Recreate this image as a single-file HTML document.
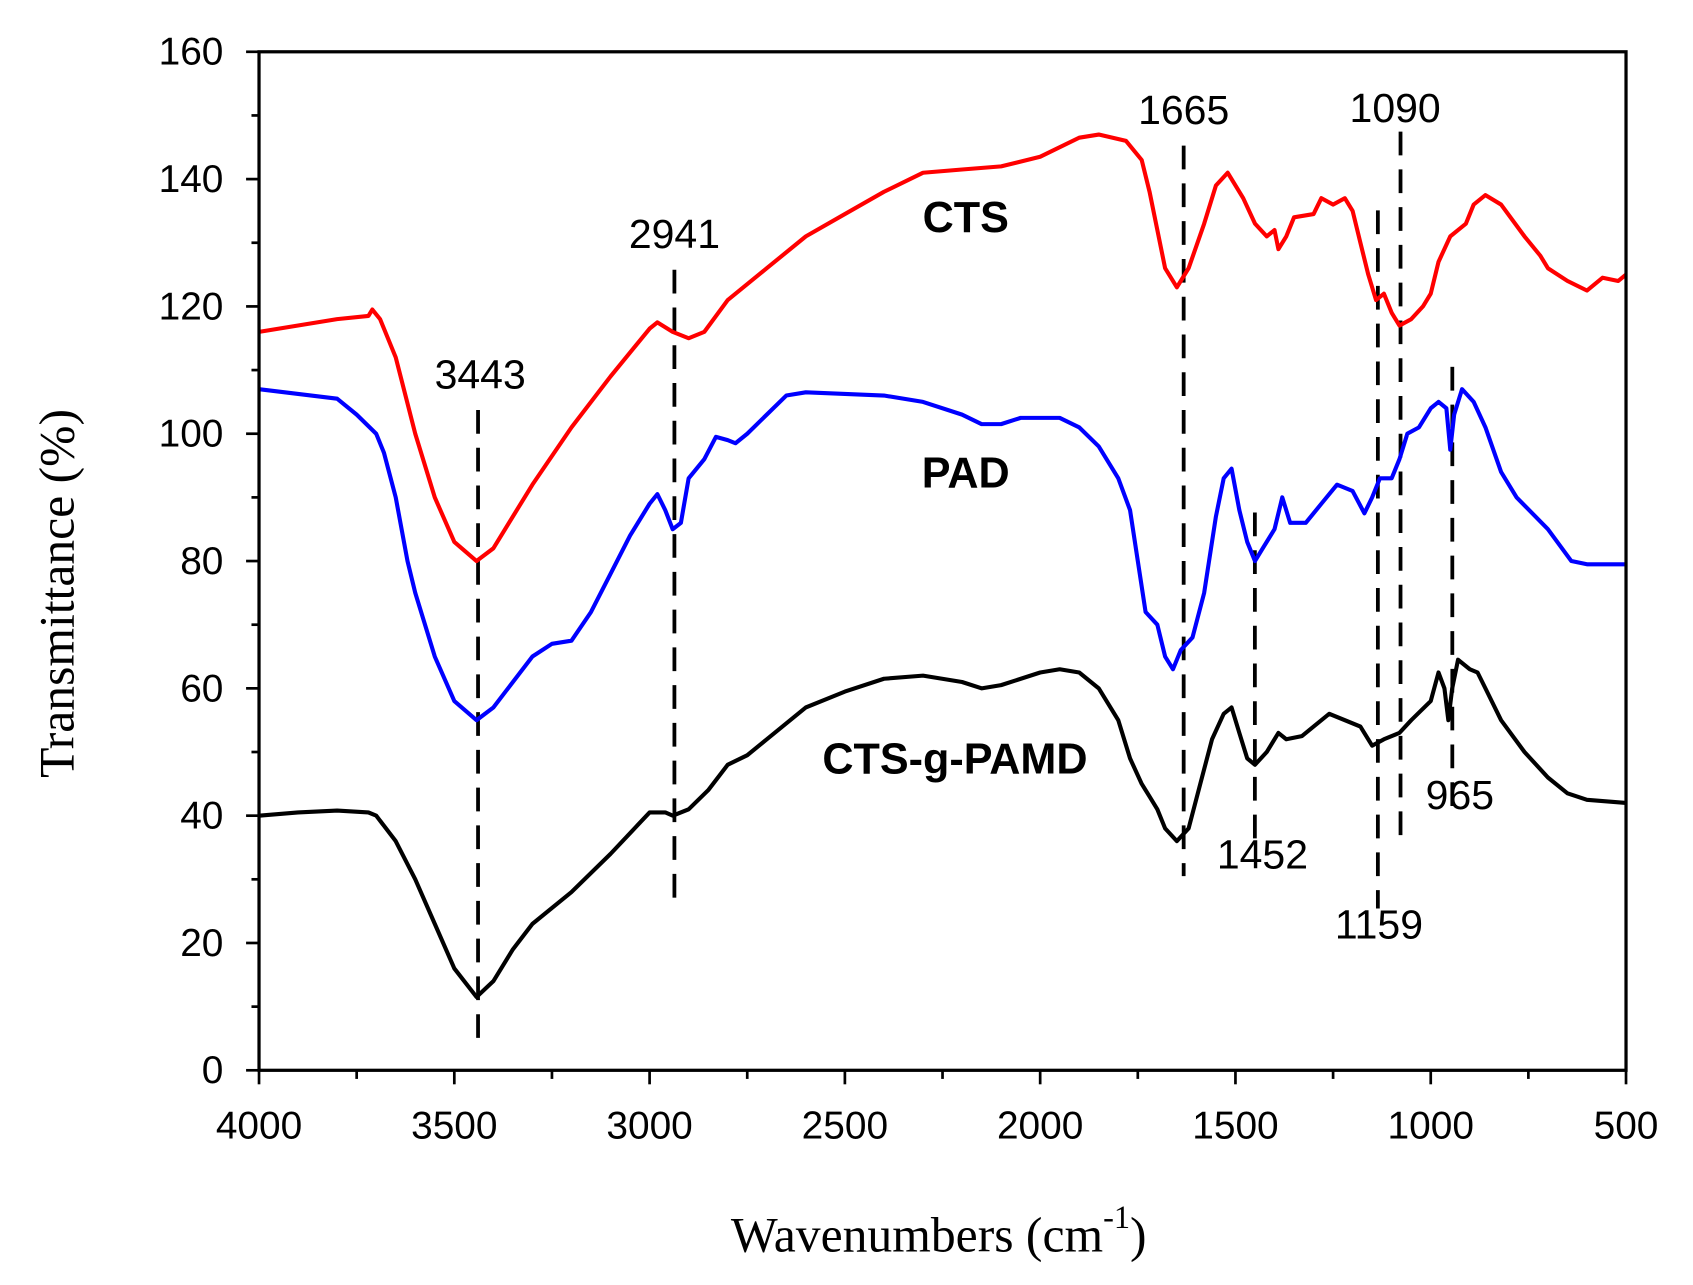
<!DOCTYPE html>
<html><head><meta charset="utf-8"><style>html,body{margin:0;padding:0;background:#fff;overflow:hidden}</style></head>
<body>
<svg id="s" xmlns="http://www.w3.org/2000/svg" width="1693" height="1285" viewBox="0 0 1569 1191" style="display:block">
<rect x="0" y="0" width="1569" height="1191" fill="#fff"/>
<g id="ticks" stroke="#000" stroke-width="2.5"></g>
<g stroke="#000" stroke-width="3.5" stroke-dasharray="22,13" fill="none">
<line x1="443" y1="380" x2="443" y2="972"/>
<line x1="625" y1="250" x2="625" y2="842"/>
<line x1="1097" y1="135" x2="1097" y2="812"/>
<line x1="1298" y1="122" x2="1298" y2="780"/>
<line x1="1163" y1="475" x2="1163" y2="790"/>
<line x1="1277" y1="195" x2="1277" y2="842"/>
<line x1="1346" y1="340" x2="1346" y2="760"/>
</g>
<g id="curves" fill="none" stroke-width="3.8" stroke-linejoin="round"></g>
<rect x="240" y="48" width="1267" height="944" fill="none" stroke="#000" stroke-width="3"/>
<g font-family="Liberation Sans, Arial, sans-serif" font-size="38" fill="#000" text-anchor="middle">
<text x="445" y="360">3443</text>
<text x="625" y="230">2941</text>
<text x="1097" y="115">1665</text>
<text x="1293" y="113">1090</text>
<text x="1170" y="805">1452</text>
<text x="1278" y="870">1159</text>
<text x="1353" y="750">965</text>
<g font-weight="bold" font-size="40">
<text x="895" y="215">CTS</text>
<text x="895" y="452">PAD</text>
<text x="885" y="717">CTS-g-PAMD</text>
</g>
</g>
<g id="labels" font-family="Liberation Sans, Arial, sans-serif" font-size="36" fill="#000"></g>
<text x="0" y="0" transform="translate(68,550) rotate(-90)" font-family="Liberation Serif, serif" font-size="46" text-anchor="middle">Transmittance (%)</text>
<text x="870" y="1160" font-family="Liberation Serif, serif" font-size="46" text-anchor="middle">Wavenumbers (cm<tspan dy="-22" font-size="30">-1</tspan><tspan dy="22">)</tspan></text>
</svg>
<script>
var X=function(w){return 240+(4000-w)*1267/3500},Y=function(v){return 992-v*5.9};
var NS="http://www.w3.org/2000/svg";
function el(p,n,a,t){var e=document.createElementNS(NS,n);for(var k in a)e.setAttribute(k,a[k]);if(t!=null)e.textContent=t;p.appendChild(e);}
var tk=document.getElementById('ticks'),lb=document.getElementById('labels');
for(var v=0;v<=160;v+=10){var y=Y(v);el(tk,'line',{x1:240,x2:v%20?233:228,y1:y,y2:y});if(v%20==0)el(lb,'text',{x:207,y:y+12,'text-anchor':'end'},v);}
for(var w=4000;w>=500;w-=250){var x=X(w);el(tk,'line',{x1:x,x2:x,y1:992,y2:w%500?1000:1005});if(w%500==0)el(lb,'text',{x:x,y:1055,'text-anchor':'middle'},w);}
var red=[4000,116,3800,118,3720,118.5,3710,119.5,3690,118,3650,112,3600,100,3550,90,3500,83,3443,80,3400,82,3300,92,3200,101,3100,109,3000,116.5,2980,117.5,2941,116,2900,115,2860,116,2800,121,2700,126,2600,131,2500,134.5,2400,138,2300,141,2200,141.5,2100,142,2000,143.5,1900,146.5,1850,147,1780,146,1740,143,1720,138,1700,132,1680,126,1650,123,1620,126,1580,133,1550,139,1520,141,1480,137,1450,133,1420,131,1400,132,1390,129,1370,131,1350,134,1300,134.5,1280,137,1250,136,1220,137,1200,135,1180,130,1160,125,1140,121,1120,122,1100,119,1080,117,1050,118,1020,120,1000,122,980,127,950,131,930,132,910,133,890,136,860,137.5,820,136,760,131,720,128,700,126,650,124,600,122.5,560,124.5,520,124,500,125];
var blue=[4000,107,3800,105.5,3750,103,3700,100,3680,97,3650,90,3620,80,3600,75,3550,65,3500,58,3443,55,3400,57,3350,61,3300,65,3250,67,3200,67.5,3150,72,3100,78,3050,84,3000,89,2980,90.5,2960,88,2941,85,2920,86,2900,93,2860,96,2830,99.5,2800,99,2780,98.5,2750,100,2700,103,2650,106,2600,106.5,2400,106,2300,105,2200,103,2150,101.5,2100,101.5,2050,102.5,2000,102.5,1950,102.5,1900,101,1850,98,1800,93,1770,88,1750,80,1730,72,1700,70,1680,65,1660,63,1640,66,1610,68,1580,75,1550,87,1530,93,1510,94.5,1490,88,1470,83,1450,80,1430,82,1400,85,1380,90,1360,86,1320,86,1280,89,1240,92,1200,91,1170,87.5,1150,90,1130,93,1100,93,1080,96,1060,100,1030,101,1000,104,980,105,960,104,950,97.5,940,103,920,107,890,105,860,101,820,94,780,90,700,85,640,80,600,79.5,500,79.5];
var blk=[4000,40,3900,40.5,3800,40.8,3720,40.5,3700,40,3650,36,3600,30,3550,23,3500,16,3443,11.5,3400,14,3350,19,3300,23,3200,28,3100,34,3000,40.5,2960,40.5,2941,40,2900,41,2850,44,2800,48,2750,49.5,2700,52,2600,57,2500,59.5,2400,61.5,2300,62,2200,61,2150,60,2100,60.5,2000,62.5,1950,63,1900,62.5,1850,60,1800,55,1770,49,1740,45,1720,43,1700,41,1680,38,1650,36,1620,38,1590,45,1560,52,1530,56,1510,57,1490,53,1470,49,1450,48,1420,50,1390,53,1370,52,1330,52.5,1300,54,1260,56,1220,55,1180,54,1150,51,1120,52,1080,53,1050,55,1000,58,980,62.5,965,60,955,55,945,60,930,64.5,900,63,880,62.5,860,60,820,55,760,50,700,46,650,43.5,600,42.5,500,42];
var cv=document.getElementById('curves');
[[red,'#f00'],[blue,'#00f'],[blk,'#000']].forEach(function(c){var d=c[0],p=[];for(var i=0;i<d.length;i+=2)p.push(X(d[i]).toFixed(1)+','+Y(d[i+1]).toFixed(1));el(cv,'polyline',{points:p.join(' '),stroke:c[1]});});
</script>
</body></html>
